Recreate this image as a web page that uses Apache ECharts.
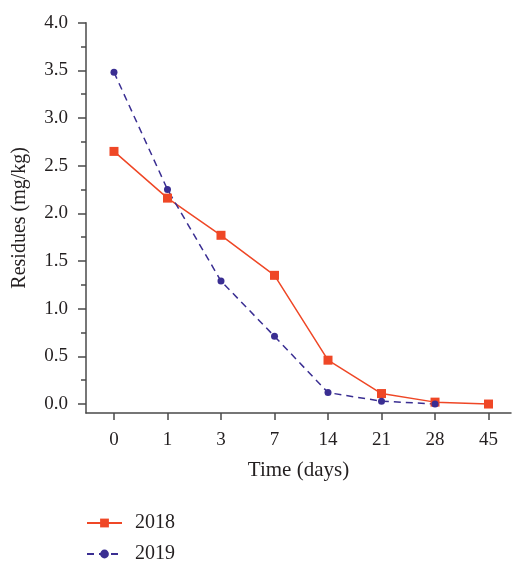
<!DOCTYPE html>
<html>
<head>
<meta charset="utf-8">
<script src="https://cdn.jsdelivr.net/npm/echarts@6/dist/echarts.min.js"></script>
<style>html,body{margin:0;padding:0;background:#fff}#c{width:512px;height:565px}</style>
</head>
<body>
<div id="c"></div>
<script>
var categories = ['0', '1', '3', '7', '14', '21', '28', '45'];
var values2018 = [2.65, 2.16, 1.77, 1.35, 0.46, 0.11, 0.02, 0.0];
var values2019 = [3.48, 2.25, 1.29, 0.71, 0.12, 0.03, 0.0];
var yTicks = [0, 0.5, 1.0, 1.5, 2.0, 2.5, 3.0, 3.5, 4.0];
var yMinorTicks = [0.25, 0.75, 1.25, 1.75, 2.25, 2.75, 3.25, 3.75];

var xIdx = categories.map(function (c, i) { return i; });
function pairs(vals) { return vals.map(function (v, i) { return [i, v]; }); }

var font = 'Liberation Serif';
var axisColor = '#4a4a4a';
var textColor = '#231f20';

function legendItem(name, top) {
  return {
    orient: 'vertical', left: 86, top: top, padding: 0,
    itemWidth: 35, itemHeight: 11,
    textStyle: { fontFamily: font, fontSize: 20, color: textColor, padding: [0, 0, 0, 8] },
    data: [name]
  };
}

var chart = echarts.init(document.getElementById('c'), null, { renderer: 'canvas' });
chart.setOption({
  animation: false,
  backgroundColor: '#fff',
  grid: { left: 86, right: 1, top: 22.7, bottom: 152, containLabel: false },
  legend: [legendItem('2018', 513), legendItem('2019', 544)],
  xAxis: {
    type: 'value', min: -0.523, max: 7.42,
    name: 'Time (days)', nameLocation: 'middle', nameGap: 47,
    nameTextStyle: { fontFamily: font, fontSize: 21, color: textColor },
    axisLine: { show: true, onZero: false, lineStyle: { color: axisColor, width: 1.5 } },
    axisTick: { show: true, length: 7, customValues: xIdx, lineStyle: { color: axisColor, width: 1.5 } },
    axisLabel: {
      customValues: xIdx, margin: 18,
      fontFamily: font, fontSize: 19, color: textColor,
      formatter: function (v) { return categories[Math.round(v)]; }
    },
    splitLine: { show: false }
  },
  yAxis: [{
    type: 'value', min: -0.094, max: 4.0, position: 'left',
    name: 'Residues (mg/kg)', nameLocation: 'middle', nameGap: 56,
    nameTextStyle: { fontFamily: font, fontSize: 20, color: textColor },
    axisLine: { show: true, onZero: false, lineStyle: { color: axisColor, width: 1.5 } },
    axisTick: { show: true, length: 8, customValues: yTicks, lineStyle: { color: axisColor, width: 1.5 } },
    axisLabel: {
      customValues: yTicks, margin: 18,
      fontFamily: font, fontSize: 19, color: textColor,
      formatter: function (v) { return v.toFixed(1); }
    },
    splitLine: { show: false }
  }, {
    type: 'value', min: -0.094, max: 4.0, position: 'left',
    axisLine: { show: false, onZero: false },
    axisTick: { show: true, length: 5, customValues: yMinorTicks, lineStyle: { color: axisColor, width: 1.5 } },
    axisLabel: { show: false },
    splitLine: { show: false }
  }],
  series: [{
    name: '2018', type: 'line', data: pairs(values2018),
    symbol: 'rect', symbolSize: 9,
    lineStyle: { color: '#ef4726', width: 1.5 },
    itemStyle: { color: '#ef4726' }
  }, {
    name: '2019', type: 'line', data: pairs(values2019),
    symbol: 'circle', symbolSize: 7,
    lineStyle: { color: '#3a2e92', width: 1.5, type: [7, 5] },
    itemStyle: { color: '#3a2e92' }
  }]
});
</script>
</body>
</html>
